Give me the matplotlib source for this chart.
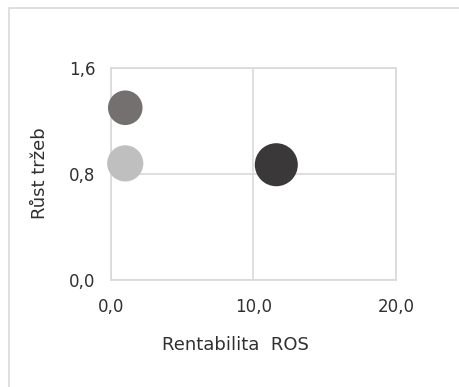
import matplotlib

matplotlib.use("Agg")
import matplotlib.pyplot as plt
from matplotlib.patches import Rectangle

plt.rcParams["font.family"] = ["DejaVu Sans"]

# ROS (x), sales growth (y), bubble size, colour
ros = [1.0, 1.0, 11.6]
growth = [1.30, 0.88, 0.87]
bubble = [620, 680, 960]
colors = ["#747070", "#bfbfbf", "#3a3838"]

x_ticks = [0, 10, 20]
y_ticks = [0.0, 0.8, 1.6]

fig = plt.figure(figsize=(4.6, 3.87), dpi=100)

# chart area outline
fig.patches.append(Rectangle((9 / 460, -0.1), 1.2, (387 - 8) / 387 + 0.1,
                             transform=fig.transFigure, fill=False,
                             edgecolor="#d9d9d9", linewidth=1.2))

ax = fig.add_axes([111 / 460, 1 - 280 / 387, 285 / 460, 212 / 387])
ax.scatter(ros, growth, s=bubble, c=colors, zorder=3, linewidths=0, clip_on=False)

ax.set_xlim(0, 20)
ax.set_ylim(0, 1.6)
ax.set_xticks(x_ticks)
ax.set_yticks(y_ticks)
ax.set_xticklabels([f"{v:.1f}".replace(".", ",") for v in x_ticks])
ax.set_yticklabels([f"{v:.1f}".replace(".", ",") for v in y_ticks])
ax.tick_params(length=0, labelsize=12, colors="#303030", pad=13)
ax.tick_params(axis="y", pad=11)
ax.grid(True, color="#d9d9d9", linewidth=1.2)
ax.set_axisbelow(True)
for spine in ax.spines.values():
    spine.set_color("#d9d9d9")
    spine.set_linewidth(1.2)

ax.set_xlabel("Rentabilita  ROS", fontsize=13, color="#303030", va="center")
ax.set_ylabel("Růst tržeb", fontsize=13, color="#303030", va="center")
ax.xaxis.set_label_coords(0.437, -0.307)
ax.yaxis.set_label_coords(-0.249, 0.505)

fig.savefig("out.png", dpi=100)
